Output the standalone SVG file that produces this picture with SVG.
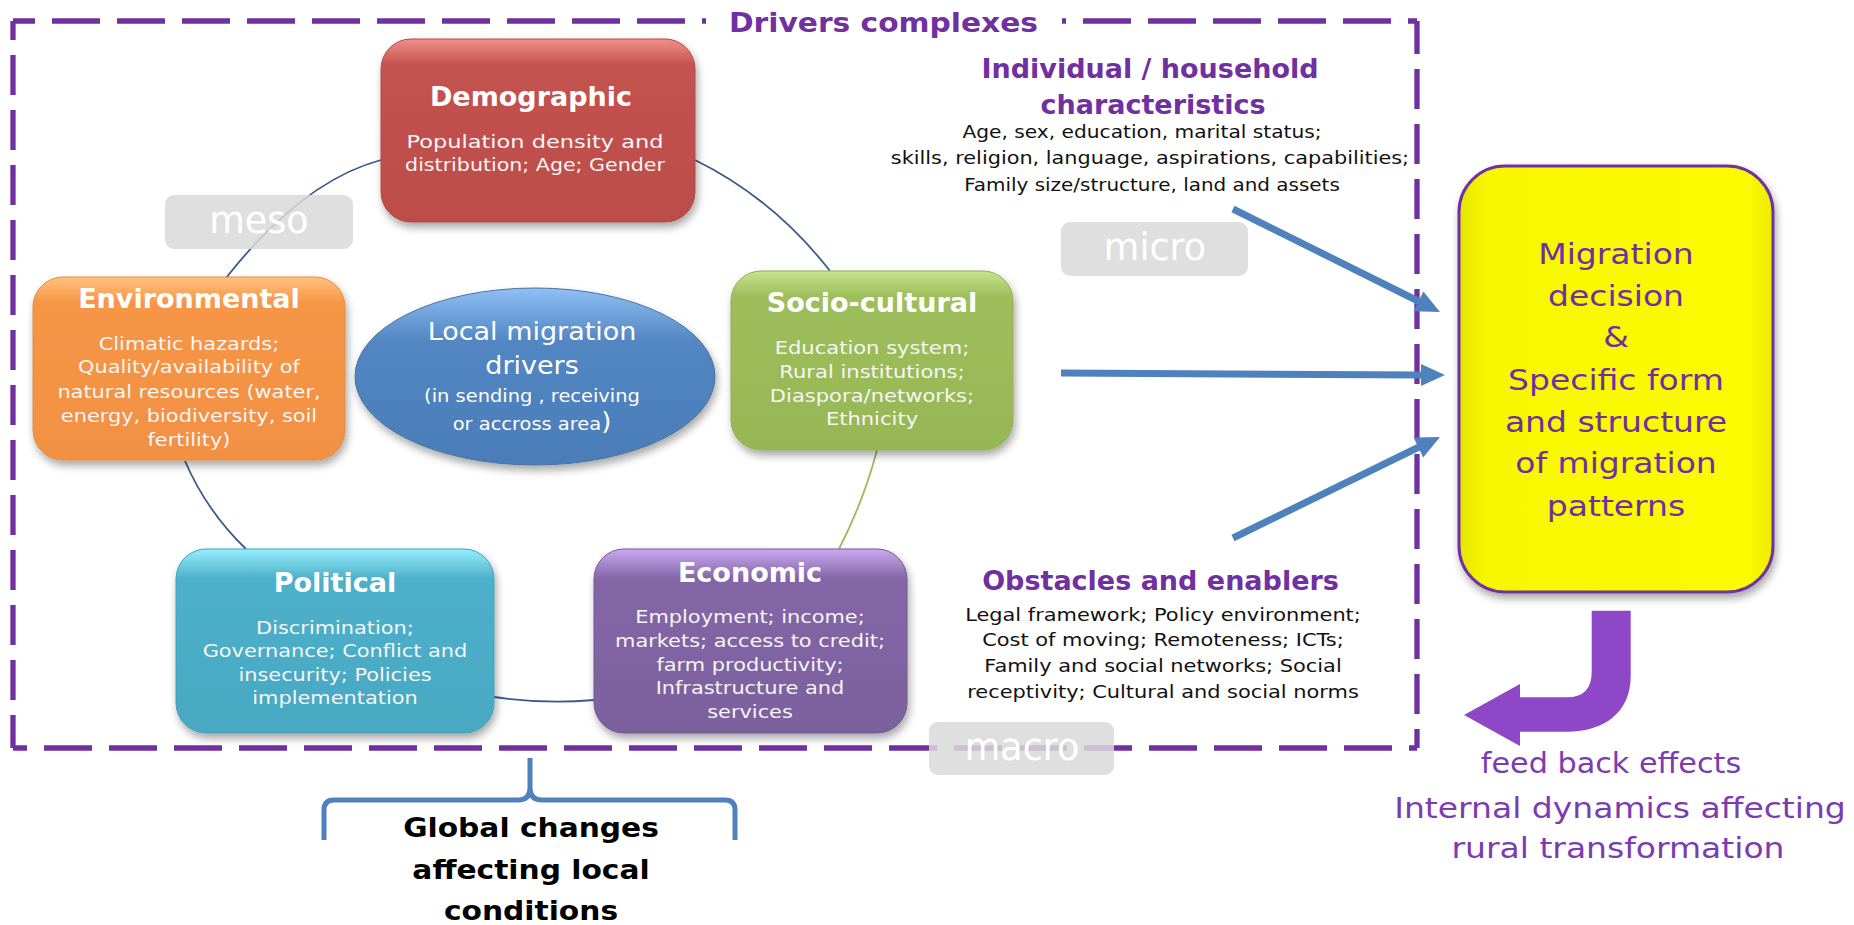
<svg xmlns="http://www.w3.org/2000/svg" width="1854" height="925" viewBox="0 0 1854 925">
<style>
text { font-family: "DejaVu Sans", "Liberation Sans", sans-serif; text-anchor: middle; }
.title { font-weight: bold; font-size: 27px; fill: #ffffff; }
.body { font-size: 18px; fill: #f6f6f6; }
.lvlbox { fill: #d9d9d9; opacity: 0.85; }
.lvl { font-size: 36.5px; fill: #ffffff; }
.head { font-weight: bold; font-size: 27px; fill: #7030a0; }
.small { font-size: 18px; fill: #111111; }
.small2 { font-size: 17.5px; fill: #111111; }
.dashh { fill: none; stroke: #7030a0; stroke-width: 5.3; stroke-dasharray: 48 17; }
.dashv { fill: none; stroke: #7030a0; stroke-width: 5.3; stroke-dasharray: 40 15; }
.arc { fill: none; stroke: #3a5a8c; stroke-width: 1.8; }
.arcg { fill: none; stroke: #9bbb59; stroke-width: 1.8; }
.shaft { fill: none; stroke: #4f81bd; stroke-width: 7; }
.ahead { fill: #4f81bd; }
.ytext { font-size: 27.5px; fill: #7030a0; }
.fb { font-size: 27.5px; fill: #7b3cb3; }
.gc { font-weight: bold; font-size: 27px; fill: #000000; }
.ell { font-size: 25px; fill: #ffffff; }
.ells { font-size: 18px; fill: #ffffff; }
</style>
<defs>
<filter id="sh" x="-10%" y="-10%" width="125%" height="135%">
<feGaussianBlur in="SourceAlpha" stdDeviation="4"/>
<feOffset dx="2" dy="5" result="b"/>
<feComponentTransfer><feFuncA type="linear" slope="0.35"/></feComponentTransfer>
<feMerge><feMergeNode/><feMergeNode in="SourceGraphic"/></feMerge>
</filter>
<linearGradient id="gRed" x1="0" y1="0" x2="0" y2="1">
<stop offset="0" stop-color="#f2908b"/><stop offset="0.14" stop-color="#c4524f"/><stop offset="1" stop-color="#bb4d4a"/>
</linearGradient>
<linearGradient id="gOrange" x1="0" y1="0" x2="0" y2="1">
<stop offset="0" stop-color="#ffc27f"/><stop offset="0.14" stop-color="#f79646"/><stop offset="1" stop-color="#f29043"/>
</linearGradient>
<linearGradient id="gGreen" x1="0" y1="0" x2="0" y2="1">
<stop offset="0" stop-color="#c8e38f"/><stop offset="0.14" stop-color="#9ebe5b"/><stop offset="1" stop-color="#97b756"/>
</linearGradient>
<linearGradient id="gTeal" x1="0" y1="0" x2="0" y2="1">
<stop offset="0" stop-color="#95eefc"/><stop offset="0.16" stop-color="#4eb0ca"/><stop offset="1" stop-color="#48a8c2"/>
</linearGradient>
<linearGradient id="gPurple" x1="0" y1="0" x2="0" y2="1">
<stop offset="0" stop-color="#cba9f3"/><stop offset="0.16" stop-color="#8466a6"/><stop offset="1" stop-color="#7c619e"/>
</linearGradient>
<linearGradient id="gBlue" x1="0" y1="0" x2="0" y2="1">
<stop offset="0" stop-color="#8fbff5"/><stop offset="0.3" stop-color="#5286c2"/><stop offset="1" stop-color="#4b7db8"/>
</linearGradient>
<linearGradient id="gYellow" x1="0" y1="0" x2="1" y2="0">
<stop offset="0" stop-color="#e4e400"/><stop offset="0.08" stop-color="#f7f700"/><stop offset="0.92" stop-color="#fafa00"/><stop offset="1" stop-color="#ecec00"/>
</linearGradient>
</defs>

<!-- dashed frame -->
<g id="frame">
<path class="dashh" d="M13,21 H706" stroke-dashoffset="26"/>
<path class="dashh" d="M1417,21 H1062" stroke-dashoffset="39"/>
<path class="dashv" d="M13,21 V748" stroke-dashoffset="21"/>
<path class="dashv" d="M1417,21 V748" stroke-dashoffset="7"/>
<path class="dashh" d="M13,748 H1417" stroke-dashoffset="34"/>
<text class="head" transform="translate(883.5 0) scale(1.1 1)" x="0" y="32">Drivers complexes</text>
</g>

<!-- connectors -->
<g id="connectors">
<path class="arc" d="M381,160 Q302.5,181 226,278"/>
<path class="arc" d="M695,160 Q773.5,198.5 830,271"/>
<path class="arcg" d="M877,450 Q864,500 839,549"/>
<path class="arc" d="M185,461 Q206.5,511 246,549"/>
<path class="arc" d="M494,697 Q546,704.5 594,700"/>
<path class="shaft" d="M1233,209 L1420,302"/>
<polygon class="ahead" points="1440,312 1413.6,311.2 1423.4,291.5"/>
<path class="shaft" d="M1061,373 L1422,375"/>
<polygon class="ahead" points="1445,375 1421,364 1421,386"/>
<path class="shaft" d="M1233,538 L1419,447"/>
<polygon class="ahead" points="1440,437 1423.2,457.4 1413.6,437.6"/>
<path id="feedback-arrow" fill="#8e47c6" d="M1591.7,610.7 H1630.7 V676 C1630.7,712 1605,731.7 1566.7,731.7 H1520 V746 L1464,715 L1520,684 V697.3 H1566.7 Q1591.7,697.3 1591.7,672 Z"/>
<path id="brace" fill="none" stroke="#4f81bd" stroke-width="5" d="M324,840 V810 Q324,800 334,800 H518 Q530,800 530,788 V758 M530,788 Q530,800 542,800 H725 Q735,800 735,810 V840"/>
</g>

<!-- level labels -->
<g id="meso">
<rect class="lvlbox" x="165" y="195" width="188" height="54" rx="9"/>
<text class="lvl" x="259" y="233">meso</text>
</g>
<g id="micro">
<rect class="lvlbox" x="1061" y="222" width="187" height="54" rx="9"/>
<text class="lvl" x="1155" y="260">micro</text>
</g>
<g id="macro">
<rect class="lvlbox" x="929" y="722" width="185" height="53" rx="9" opacity="0.75"/>
<text class="lvl" x="1022" y="760">macro</text>
</g>

<!-- nodes -->
<g id="demographic">
<rect x="381" y="39" width="314" height="183" rx="30" fill="url(#gRed)" stroke="#b04a47" stroke-width="1" filter="url(#sh)"/>
<text class="title" x="531" y="106">Demographic</text>
<text class="body" transform="translate(535 0) scale(1.249 1)" x="0" y="148">Population density and</text>
<text class="body" transform="translate(535 0) scale(1.144 1)" x="0" y="171.5">distribution; Age; Gender</text>
</g>

<g id="environmental">
<rect x="33" y="277" width="312" height="183" rx="30" fill="url(#gOrange)" stroke="#e08a40" stroke-width="1" filter="url(#sh)"/>
<text class="title" x="189" y="308">Environmental</text>
<g transform="translate(189 0) scale(1.16 1)">
<text class="body" x="0" y="350">Climatic hazards;</text>
<text class="body" x="0" y="373">Quality/availability of</text>
<text class="body" x="0" y="398">natural resources (water,</text>
<text class="body" x="0" y="422">energy, biodiversity, soil</text>
<text class="body" x="0" y="446">fertility)</text>
</g>
</g>

<g id="local-drivers">
<ellipse cx="535" cy="376.5" rx="180" ry="88.5" fill="url(#gBlue)" stroke="#46729f" stroke-width="1" filter="url(#sh)"/>
<g transform="translate(532 0) scale(1.08 1)">
<text class="ell" x="0" y="340">Local migration</text>
<text class="ell" x="0" y="374">drivers</text>
<text class="ells" x="0" y="402">(in sending , receiving</text>
<text class="ells" x="0" y="430">or accross area<tspan font-size="24">)</tspan></text>
</g>
</g>

<g id="socio-cultural">
<rect x="731" y="271" width="282" height="179" rx="30" fill="url(#gGreen)" stroke="#8fae52" stroke-width="1" filter="url(#sh)"/>
<text class="title" x="872" y="312">Socio-cultural</text>
<g transform="translate(872 0) scale(1.17 1)">
<text class="body" x="0" y="354">Education system;</text>
<text class="body" x="0" y="378">Rural institutions;</text>
<text class="body" x="0" y="402.5">Diaspora/networks;</text>
<text class="body" x="0" y="425.5">Ethnicity</text>
</g>
</g>

<g id="political">
<rect x="176" y="549" width="318" height="184" rx="30" fill="url(#gTeal)" stroke="#44a0b8" stroke-width="1" filter="url(#sh)"/>
<text class="title" x="335" y="592">Political</text>
<g transform="translate(335 0) scale(1.16 1)">
<text class="body" x="0" y="634">Discrimination;</text>
<text class="body" x="0" y="657.5">Governance; Conflict and</text>
<text class="body" x="0" y="681">insecurity; Policies</text>
<text class="body" x="0" y="704.5">implementation</text>
</g>
</g>

<g id="economic">
<rect x="594" y="549" width="313" height="184" rx="30" fill="url(#gPurple)" stroke="#735894" stroke-width="1" filter="url(#sh)"/>
<text class="title" x="750" y="582">Economic</text>
<g transform="translate(750 0) scale(1.16 1)">
<text class="body" x="0" y="623">Employment; income;</text>
<text class="body" x="0" y="647">markets; access to credit;</text>
<text class="body" x="0" y="671">farm productivity;</text>
<text class="body" x="0" y="694.5">Infrastructure and</text>
<text class="body" x="0" y="718">services</text>
</g>
</g>

<g id="individual-household">
<text class="head" x="1150" y="78">Individual / household</text>
<text class="head" x="1153" y="114">characteristics</text>
<text class="small" transform="translate(1142 0) scale(1.122 1)" x="0" y="138">Age, sex, education, marital status;</text>
<text class="small" transform="translate(1150 0) scale(1.157 1)" x="0" y="164">skills, religion, language, aspirations, capabilities;</text>
<text class="small" transform="translate(1152 0) scale(1.108 1)" x="0" y="191">Family size/structure, land and assets</text>
</g>

<g id="obstacles-enablers">
<text class="head" x="1160.5" y="590">Obstacles and enablers</text>
<g transform="translate(1163 0) scale(1.195 1)">
<text class="small2" x="0" y="621">Legal framework; Policy environment;</text>
<text class="small2" x="0" y="646.5">Cost of moving; Remoteness; ICTs;</text>
<text class="small2" x="0" y="672">Family and social networks; Social</text>
<text class="small2" x="0" y="698">receptivity; Cultural and social norms</text>
</g>
</g>

<g id="migration-decision">
<rect x="1459" y="166" width="314" height="426" rx="46" fill="url(#gYellow)" stroke="#7030a0" stroke-width="3" filter="url(#sh)"/>
<g transform="translate(1616 0) scale(1.2 1)">
<text class="ytext" x="0" y="264">Migration</text>
<text class="ytext" x="0" y="306">decision</text>
<text class="ytext" x="0" y="347">&amp;</text>
<text class="ytext" x="0" y="390">Specific form</text>
<text class="ytext" x="0" y="432">and structure</text>
<text class="ytext" x="0" y="473">of migration</text>
<text class="ytext" x="0" y="516">patterns</text>
</g>
</g>

<g id="feedback">
<text class="fb" transform="translate(1611 0) scale(1.1 1)" x="0" y="773">feed back effects</text>
<text class="fb" transform="translate(1620 0) scale(1.2 1)" x="0" y="818">Internal dynamics affecting</text>
<text class="fb" transform="translate(1618 0) scale(1.2 1)" x="0" y="858">rural transformation</text>
</g>

<g id="global-changes">
<g transform="translate(531 0) scale(1.1 1)">
<text class="gc" x="0" y="837">Global changes</text>
<text class="gc" x="0" y="879">affecting local</text>
<text class="gc" x="0" y="920">conditions</text>
</g>
</g>
</svg>
